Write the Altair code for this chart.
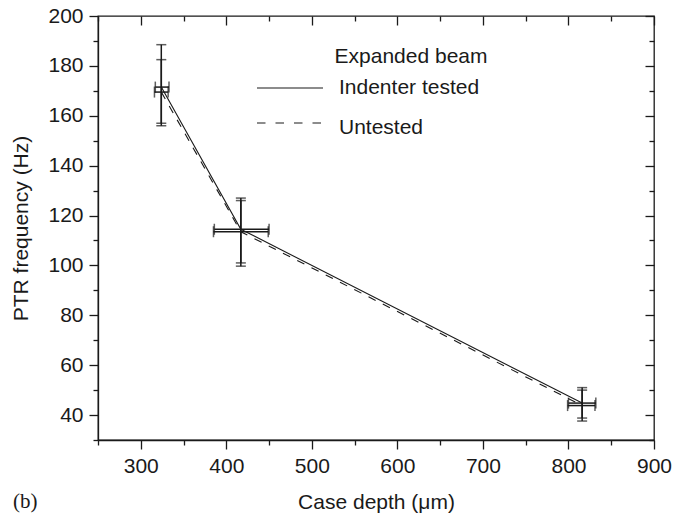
import altair as alt
import pandas as pd

# ---- data ----
depth = [324, 417, 816]
series = ["Indenter tested", "Untested"]
tested_freq = [171.5, 114.5, 44.8]
untested_freq = [169.5, 113.5, 43.8]
tested_flo = [157.0, 101.0, 38.8]
tested_fhi = [188.5, 127.0, 51.0]
untested_flo = [156.0, 99.7, 37.6]
untested_fhi = [182.5, 126.0, 50.0]
tested_dlo = [317, 386, 800]
tested_dhi = [333, 450, 832]
untested_dlo = [316, 385, 799]
untested_dhi = [332, 449, 831]
legend_title = ["Expanded beam"]
panel_label = ["(b)"]
x_major = [300, 400, 500, 600, 700, 800, 900]
x_minor = [250, 350, 450, 550, 650, 750, 850]
y_major = [40, 60, 80, 100, 120, 140, 160, 180, 200]
y_minor = [30, 50, 70, 90, 110, 130, 150, 170, 190]
x_title = "Case depth (μm)"
y_title = "PTR frequency (Hz)"

rows = []
for s, fr, flo, fhi, dlo, dhi in [
    (series[0], tested_freq, tested_flo, tested_fhi, tested_dlo, tested_dhi),
    (series[1], untested_freq, untested_flo, untested_fhi, untested_dlo, untested_dhi),
]:
    for i in range(len(depth)):
        rows.append(dict(series=s, depth=depth[i], freq=fr[i], flo=flo[i], fhi=fhi[i],
                         dlo=dlo[i], dhi=dhi[i]))
df = pd.DataFrame(rows)
df_t = df[df.series == series[0]]
df_u = df[df.series == series[1]]

ink = "#1a1a1a"
font = "Liberation Sans"
FS = 21

xs = alt.Scale(domain=[250, 900], nice=False, zero=False)
ys = alt.Scale(domain=[30, 200], nice=False, zero=False)

bottom_major = alt.Axis(orient="bottom", values=x_major, tickSize=9, labels=True,
                        labelPadding=6, domain=True, title=x_title, titleY=51,
                        labelFlush=False)
bottom_minor = alt.Axis(orient="bottom", values=x_minor, tickSize=5, labels=False,
                        domain=False, title="")
top_major = alt.Axis(orient="top", values=x_major, tickSize=9, offset=-9, labels=False,
                     domain=False, title="")
top_minor = alt.Axis(orient="top", values=x_minor, tickSize=5, offset=-5, labels=False,
                     domain=False, title="")
left_major = alt.Axis(orient="left", values=y_major, tickSize=9, labels=True,
                      labelPadding=6, domain=True, title=y_title, titleX=-67, titleY=212,
                      labelFlush=False)
left_minor = alt.Axis(orient="left", values=y_minor, tickSize=5, labels=False,
                      domain=False, title="")
right_major = alt.Axis(orient="right", values=y_major, tickSize=9, offset=-9, labels=False,
                       domain=False, title="")
right_minor = alt.Axis(orient="right", values=y_minor, tickSize=5, offset=-5, labels=False,
                       domain=False, title="")


def X(field, axis=None):
    if axis is None:
        return alt.X(field, type="quantitative", scale=xs, axis=None)
    return alt.X(field, type="quantitative", scale=xs, axis=axis)


def Y(field, axis=None):
    if axis is None:
        return alt.Y(field, type="quantitative", scale=ys, axis=None)
    return alt.Y(field, type="quantitative", scale=ys, axis=axis)


line_t = alt.Chart(df_t).mark_line(color=ink, strokeWidth=1.1).encode(
    x=X("depth", bottom_major), y=Y("freq", left_major))
line_u = alt.Chart(df_u).mark_line(color=ink, strokeWidth=1.1, strokeDash=[8, 8]).encode(
    x=X("depth", bottom_minor), y=Y("freq", left_minor))

vrule = alt.Chart(df).mark_rule(color=ink, strokeWidth=1.5).encode(
    x=X("depth", top_major), y=Y("flo", right_major), y2="fhi")
hrule = alt.Chart(df).mark_rule(color=ink, strokeWidth=1.5).encode(
    x=X("dlo", top_minor), x2="dhi", y=Y("freq", right_minor))
cap_lo = alt.Chart(df).mark_tick(orient="horizontal", color=ink, size=10, thickness=1.5).encode(
    x=X("depth"), y=Y("flo"))
cap_hi = alt.Chart(df).mark_tick(orient="horizontal", color=ink, size=10, thickness=1.5).encode(
    x=X("depth"), y=Y("fhi"))
cap_l = alt.Chart(df).mark_tick(orient="vertical", color=ink, size=11, thickness=1.5).encode(
    x=X("dlo"), y=Y("freq"))
cap_r = alt.Chart(df).mark_tick(orient="vertical", color=ink, size=11, thickness=1.5).encode(
    x=X("dhi"), y=Y("freq"))

# ---- legend (drawn as annotations) ----
leg_title = alt.Chart(pd.DataFrame({"t": legend_title})).mark_text(
    font=font, fontSize=FS, color=ink, align="center", baseline="middle").encode(
    x=alt.value(313), y=alt.value(41), text="t:N")
leg_solid = alt.Chart(pd.DataFrame({"t": [series[0]]})).mark_rule(
    color=ink, strokeWidth=1.1).encode(x=alt.value(159), x2=alt.value(225), y=alt.value(72))
leg_solid_t = alt.Chart(pd.DataFrame({"t": [series[0]]})).mark_text(
    font=font, fontSize=FS, color=ink, align="left", baseline="middle").encode(
    x=alt.value(241), y=alt.value(72), text="t:N")
leg_dash = alt.Chart(pd.DataFrame({"t": [series[1]]})).mark_rule(
    color=ink, strokeWidth=1.1, strokeDash=[8.5, 10]).encode(
    x=alt.value(159), x2=alt.value(225), y=alt.value(107))
leg_dash_t = alt.Chart(pd.DataFrame({"t": [series[1]]})).mark_text(
    font=font, fontSize=FS, color=ink, align="left", baseline="middle").encode(
    x=alt.value(241), y=alt.value(112), text="t:N")
panel = alt.Chart(pd.DataFrame({"t": panel_label})).mark_text(
    font="Liberation Serif", fontSize=FS, color=ink, align="left", baseline="middle").encode(
    x=alt.value(-85), y=alt.value(486), text="t:N")

chart = alt.layer(
    line_t, line_u, vrule, hrule, cap_lo, cap_hi, cap_l, cap_r,
    leg_title, leg_solid, leg_solid_t, leg_dash, leg_dash_t, panel,
).resolve_axis(x="independent", y="independent").properties(
    width=556, height=424,
    autosize=alt.AutoSizeParams(type="none"),
    padding={"left": 98, "top": 16, "right": 34, "bottom": 73},
    background="white",
).configure_view(stroke=ink, strokeWidth=1.3).configure_axis(
    grid=False, tickColor=ink, tickWidth=1.3, domainColor=ink, domainWidth=1.3,
    labelFont=font, labelFontSize=FS, labelColor=ink,
    titleFont=font, titleFontSize=FS, titleFontWeight="normal", titleColor=ink,
)

chart.save("out.html", embed_options={"renderer": "svg", "actions": False})
